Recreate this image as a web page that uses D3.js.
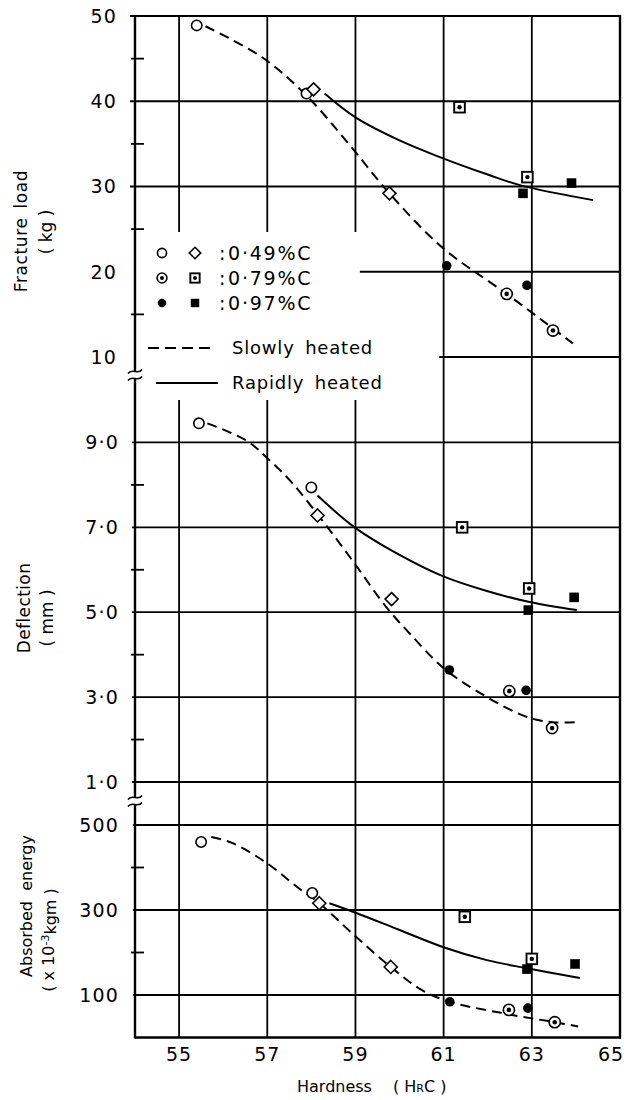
<!DOCTYPE html>
<html><head><meta charset="utf-8">
<script src="https://cdn.jsdelivr.net/npm/d3@7"></script>
<style>body{margin:0;background:#fff}svg{display:block}</style>
</head><body><svg id="c" width="634" height="1100"></svg>
<script>
// ---------- data ----------
const xTicks = [55, 57, 59, 61, 63, 65];
const loadTicks = [50, 40, 30, 20, 10];
const loadMinor = [45, 35, 25, 15];
const defTicks = [9, 7, 5, 3, 1];
const defTickLabels = ["9·0", "7·0", "5·0", "3·0", "1·0"];
const defMinor = [8, 6, 4, 2];
const energyTicks = [500, 300, 100];
const energyMinor = [400, 200];

// m: oc = open circle (0.49%C slow), od = open diamond (0.49%C rapid)
//    dc = dotted circle (0.79%C slow), ds = dotted square (0.79%C rapid)
//    fc = filled circle (0.97%C slow), fs = filled square (0.97%C rapid)
const loadPoints = [
  {h: 55.40, v: 48.9, m: "oc"}, {h: 57.89, v: 40.9, m: "oc"}, {h: 58.05, v: 41.4, m: "od"},
  {h: 59.77, v: 29.2, m: "od"}, {h: 61.07, v: 20.7, m: "fc"}, {h: 62.43, v: 17.4, m: "dc"},
  {h: 62.89, v: 18.4, m: "fc"}, {h: 63.48, v: 13.1, m: "dc"}, {h: 61.36, v: 39.3, m: "ds"},
  {h: 62.90, v: 31.1, m: "ds"}, {h: 62.80, v: 29.2, m: "fs"}, {h: 63.90, v: 30.4, m: "fs"}
];
const loadSlow = [[55.6, 48.8], [56.9, 45.1], [57.9, 40.6], [58.8, 35.3], [59.77, 29.2],
  [60.98, 22.8], [62.43, 17.4], [63.93, 11.6]];
const loadRapid = [[58.3, 40.9], [59.0, 38.1], [60.0, 35.4], [60.84, 33.6], [62.0, 31.4],
  [62.77, 30.1], [64.39, 28.4]];

const defPoints = [
  {h: 55.45, v: 9.45, m: "oc"}, {h: 58.00, v: 7.94, m: "oc"}, {h: 58.14, v: 7.28, m: "od"},
  {h: 59.82, v: 5.31, m: "od"}, {h: 61.13, v: 3.64, m: "fc"}, {h: 62.49, v: 3.14, m: "dc"},
  {h: 62.87, v: 3.16, m: "fc"}, {h: 63.46, v: 2.27, m: "dc"}, {h: 61.42, v: 7.0, m: "ds"},
  {h: 62.94, v: 5.56, m: "ds"}, {h: 62.92, v: 5.05, m: "fs"}, {h: 63.96, v: 5.35, m: "fs"}
];
const defSlow = [[55.64, 9.45], [56.52, 9.05], [56.98, 8.65], [57.57, 8.04], [58.25, 7.16],
  [58.93, 6.22], [59.7, 5.12], [60.23, 4.5], [60.98, 3.7], [61.82, 3.1], [62.89, 2.53],
  [63.48, 2.41], [64.02, 2.41]];
const defRapid = [[58.14, 7.75], [58.98, 7.0], [60.0, 6.35], [60.98, 5.85], [61.98, 5.5],
  [62.95, 5.24], [64.02, 5.05]];

const energyPoints = [
  {h: 55.50, v: 460, m: "oc"}, {h: 58.02, v: 340, m: "oc"}, {h: 58.18, v: 316, m: "od"},
  {h: 59.80, v: 166, m: "od"}, {h: 61.14, v: 84, m: "fc"}, {h: 62.48, v: 65, m: "dc"},
  {h: 62.91, v: 69, m: "fc"}, {h: 63.52, v: 36, m: "dc"}, {h: 61.48, v: 284, m: "ds"},
  {h: 63.00, v: 185, m: "ds"}, {h: 62.89, v: 161, m: "fs"}, {h: 63.98, v: 173, m: "fs"}
];
const energySlow = [[55.73, 472], [56.2, 458], [56.98, 411], [57.73, 350], [58.18, 316],
  [59.0, 238], [59.8, 166], [60.5, 112], [61.14, 84], [62.3, 58], [63.0, 45], [63.52, 36], [64.05, 26]];
const energyRapid = [[58.41, 316], [59.02, 293], [60.0, 253], [60.98, 213], [61.98, 182],
  [62.89, 163], [64.09, 140]];

const legendRows = [
  {a: "oc", b: "od", label: "0·49%C"},
  {a: "dc", b: "ds", label: "0·79%C"},
  {a: "fc", b: "fs", label: "0·97%C"}
];
const legendLines = [{dash: true, label: "Slowly heated"}, {dash: false, label: "Rapidly heated"}];

// ---------- scales ----------
const FONT = "DejaVu Sans, sans-serif";
const x = d3.scaleLinear().domain([54, 65]).range([135, 620]);
const yLoad = d3.scaleLinear().domain([10, 50]).range([357, 16]);
const yDef = d3.scaleLinear().domain([1, 10]).range([782, 400]);
const yEn = d3.scaleLinear().domain([0, 500]).range([1037.5, 825]);

const svg = d3.select("#c");
svg.append("rect").attr("width", 634).attr("height", 1100).attr("fill", "#fff");
const g = svg.append("g").attr("stroke-linecap", "butt");

const AX = x(54), RX = x(65), TOP = yLoad(50), BOT = yEn(0);

function hline(y, x1, x2, w = 1.8) {
  g.append("line").attr("x1", x1).attr("x2", x2).attr("y1", y).attr("y2", y)
    .attr("stroke", "#000").attr("stroke-width", w);
}
function vline(xx, y1, y2, w = 1.8) {
  g.append("line").attr("x1", xx).attr("x2", xx).attr("y1", y1).attr("y2", y2)
    .attr("stroke", "#000").attr("stroke-width", w);
}

// vertical grid
xTicks.forEach(t => {
  if (t === 65) return;
  if (t <= 59) {
    vline(x(t), TOP, 232);
    vline(x(t), yDef(10), BOT);
  } else {
    vline(x(t), TOP, BOT);
  }
});

// horizontal grid
loadTicks.forEach(t => {
  let x1 = AX - 5;
  if (t === 20) x1 = x(59.1);
  if (t === 10) x1 = x(60.9);
  hline(yLoad(t), x1, RX, t === 50 ? 2.2 : 1.8);
});
defTicks.forEach(t => hline(yDef(t), AX - 3, RX));
energyTicks.forEach(t => hline(yEn(t), AX - 2, RX));
hline(BOT, AX, RX + 1, 2.4);

// right frame
vline(RX, TOP - 1, BOT + 1, 2.4);

// y axis with breaks
const breaks = [375, 801];
vline(AX, TOP - 1, breaks[0] - 4, 2.4);
vline(AX, breaks[0] + 4, breaks[1] - 4, 2.4);
vline(AX, breaks[1] + 4, BOT + 1, 2.4);
breaks.forEach(b => {
  [-3.5, 3.5].forEach(o => {
    g.append("path")
      .attr("d", `M${AX - 7},${b + o + 2} C${AX - 3},${b + o - 4} ${AX + 3},${b + o + 4} ${AX + 7},${b + o - 2}`)
      .attr("fill", "none").attr("stroke", "#000").attr("stroke-width", 1.6);
  });
});

// minor ticks
loadMinor.forEach(t => hline(yLoad(t), AX - 4, AX + 9));
defMinor.forEach(t => hline(yDef(t), AX - 4, AX + 9));
energyMinor.forEach(t => hline(yEn(t), AX - 4, AX + 9));

// tick labels
const tl = svg.append("g").attr("font-family", FONT).attr("font-size", 19)
  .attr("letter-spacing", 1.2).attr("text-anchor", "end").attr("fill", "#000");
loadTicks.forEach(t => tl.append("text").attr("x", 117).attr("y", yLoad(t)).attr("dy", "0.36em").text(t));
defTicks.forEach((t, i) => tl.append("text").attr("x", 119).attr("y", yDef(t)).attr("dy", "0.36em").text(defTickLabels[i]));
energyTicks.forEach(t => tl.append("text").attr("x", 119).attr("y", yEn(t)).attr("dy", "0.36em").text(t));

const xl = svg.append("g").attr("font-family", FONT).attr("font-size", 19)
  .attr("letter-spacing", 1).attr("text-anchor", "middle").attr("fill", "#000");
xTicks.forEach(t => xl.append("text").attr("x", t === 65 ? x(t) - 9 : x(t)).attr("y", 1061).text(t));

// axis titles
const at = svg.append("g").attr("font-family", FONT).attr("font-size", 17)
  .attr("text-anchor", "middle").attr("fill", "#000");
function vtext(cx, cy, txt) {
  return at.append("text").attr("transform", `translate(${cx},${cy}) rotate(-90)`)
    .attr("dy", "0.35em").text(txt);
}
vtext(21, 231, "Fracture load").attr("letter-spacing", 0.6).attr("word-spacing", 3);
vtext(46, 232, "( kg )");
vtext(24, 608, "Deflection").attr("letter-spacing", 0.4);
vtext(47, 618, "( mm )");
vtext(26, 906, "Absorbed  energy").attr("xml:space", "preserve").attr("font-size", 16);
const ae = at.append("text").attr("transform", `translate(48,940) rotate(-90)`).attr("dy", "0.35em")
  .attr("font-size", 16);
ae.append("tspan").text("( x 10");
ae.append("tspan").attr("dy", "-0.45em").attr("font-size", 11).text("-3");
ae.append("tspan").attr("dy", "0.45em").text("kgm )");

const hx = svg.append("text").attr("font-family", FONT).attr("font-size", 16)
  .attr("x", 297).attr("y", 1092).attr("fill", "#000");
hx.append("tspan").text("Hardness");
hx.append("tspan").attr("x", 393).text("( H");
hx.append("tspan").attr("font-size", 11).text("R");
hx.append("tspan").text("C )");

// ---------- curves ----------
function curve(data, ys, dashed) {
  const line = d3.line().x(d => x(d[0])).y(d => ys(d[1])).curve(d3.curveCatmullRom.alpha(0.5));
  g.append("path").attr("d", line(data)).attr("fill", "none").attr("stroke", "#000")
    .attr("stroke-width", 2).attr("stroke-dasharray", dashed ? "10,6" : null);
}
curve(loadSlow, yLoad, true);
curve(loadRapid, yLoad, false);
curve(defSlow, yDef, true);
curve(defRapid, yDef, false);
curve(energySlow, yEn, true);
curve(energyRapid, yEn, false);

// ---------- markers ----------
function marker(sel, m, cx, cy, k = 1) {
  const s = sel.append("g").attr("transform", `translate(${cx},${cy})`);
  const sw = 1.6;
  if (m === "oc") {
    s.append("circle").attr("r", 5.2 * k).attr("fill", "#fff").attr("stroke", "#000").attr("stroke-width", sw);
  } else if (m === "od") {
    const a = 6.5 * k;
    s.append("path").attr("d", `M0,${-a}L${a},0L0,${a}L${-a},0Z`).attr("fill", "#fff")
      .attr("stroke", "#000").attr("stroke-width", sw);
  } else if (m === "dc") {
    s.append("circle").attr("r", 5.6 * k).attr("fill", "#fff").attr("stroke", "#000").attr("stroke-width", sw);
    s.append("circle").attr("r", 2.3 * k).attr("fill", "#000");
  } else if (m === "ds") {
    const a = 5.3 * k;
    s.append("rect").attr("x", -a).attr("y", -a).attr("width", 2 * a).attr("height", 2 * a)
      .attr("fill", "#fff").attr("stroke", "#000").attr("stroke-width", 1.9);
    s.append("circle").attr("r", 2.2 * k).attr("fill", "#000");
  } else if (m === "fc") {
    s.append("circle").attr("r", 4.8 * k).attr("fill", "#000");
  } else if (m === "fs") {
    const a = 4.8 * k;
    s.append("rect").attr("x", -a).attr("y", -a).attr("width", 2 * a).attr("height", 2 * a).attr("fill", "#000");
  }
}
const mk = svg.append("g");
loadPoints.forEach(p => marker(mk, p.m, x(p.h), yLoad(p.v)));
defPoints.forEach(p => marker(mk, p.m, x(p.h), yDef(p.v)));
energyPoints.forEach(p => marker(mk, p.m, x(p.h), yEn(p.v)));

// ---------- legend ----------
const lg = svg.append("g");
const rowY = [253, 278, 303];
legendRows.forEach((r, i) => {
  marker(lg, r.a, 162, rowY[i], 0.88);
  marker(lg, r.b, 195, rowY[i], 0.88);
  lg.append("text").attr("x", 219).attr("y", rowY[i]).attr("dy", "0.36em")
    .attr("font-family", FONT).attr("font-size", 19).text(":");
  lg.append("text").attr("x", 228).attr("y", rowY[i]).attr("dy", "0.36em")
    .attr("font-family", FONT).attr("font-size", 19).attr("letter-spacing", 1.8).text(r.label);
});
const lineY = [348, 383];
legendLines.forEach((l, i) => {
  lg.append("line").attr("x1", l.dash ? 148 : 156).attr("x2", l.dash ? 210 : 218)
    .attr("y1", lineY[i]).attr("y2", lineY[i]).attr("stroke", "#000").attr("stroke-width", 2)
    .attr("stroke-dasharray", l.dash ? "11,6" : null);
  lg.append("text").attr("x", 232).attr("y", lineY[i]).attr("dy", "0.36em")
    .attr("font-family", FONT).attr("font-size", 18).attr("letter-spacing", 0.8)
    .attr("word-spacing", 4).text(l.label);
});
</script>
</body></html>
